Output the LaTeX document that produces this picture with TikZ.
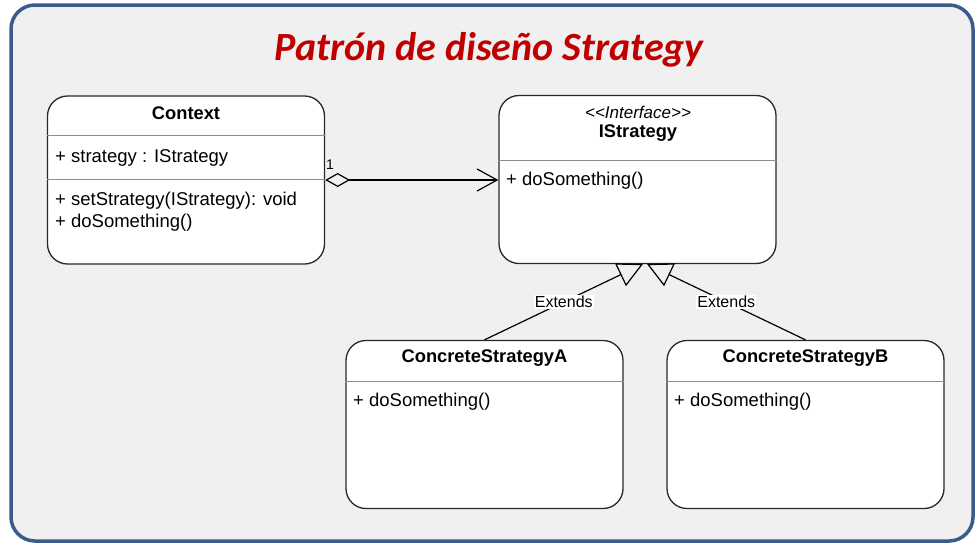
\documentclass[tikz,border=0pt]{standalone}
\usepackage{fontspec}
\setmainfont{Liberation Sans}
\newfontfamily\titlefont{Carlito}
\usepackage{tikz}
\usetikzlibrary{arrows.meta}

\definecolor{framecol}{RGB}{58,92,140}
\definecolor{panelgray}{RGB}{240,240,240}
\definecolor{titlered}{RGB}{192,0,0}
\definecolor{boxline}{RGB}{40,40,40}
\definecolor{divline}{RGB}{140,140,140}

\begin{document}
\begin{tikzpicture}[
    x=1pt,y=-1pt,
    classbox/.style={draw=boxline,fill=white,rounded corners=20pt,line width=1.3pt,
      minimum width=277pt,minimum height=168pt,inner sep=0pt},
    divider/.style={draw=divline,line width=0.9pt},
    classname/.style={font=\fontsize{18.3}{20}\selectfont\bfseries,inner sep=0pt},
    stereo/.style={font=\fontsize{17}{20}\selectfont\itshape,inner sep=0pt},
    member/.style={font=\fontsize{18.5}{20}\selectfont,anchor=west,inner sep=0pt},
    assoc/.style={line width=1.2pt,
      {Diamond[open,length=25pt,width=14pt]}-{Straight Barb[length=20pt,width=22pt]}},
    extends/.style={line width=1.2pt,-{Triangle[open,length=25pt,width=25pt]}},
    extlabel/.style={font=\fontsize{16}{18}\selectfont,fill=white,inner sep=1pt}
]
\fill[white] (0,0) rectangle (977,547);
\useasboundingbox (0,0) rectangle (977,547);

% panel and title
\draw[framecol,line width=3.5pt,fill=panelgray,rounded corners=24pt] (11,5) rectangle (973,541);
\node[font=\titlefont\fontsize{40}{44}\selectfont\bfseries\itshape,text=titlered]
  (title) at (489,50) {Patrón de diseño Strategy};

% classes
\node[classbox] (context) at (186,180) {};
\node[classbox] (istrategy) at (637.5,179.5) {};
\node[classbox] (csa) at (484.5,424.5) {};
\node[classbox] (csb) at (805.5,424.5) {};

\draw[divider] (context.west |- 0,135) -- (context.east |- 0,135);
\draw[divider] (context.west |- 0,179) -- (context.east |- 0,179);
\draw[divider] (istrategy.west |- 0,160) -- (istrategy.east |- 0,160);
\draw[divider] (csa.west |- 0,381) -- (csa.east |- 0,381);
\draw[divider] (csb.west |- 0,381) -- (csb.east |- 0,381);

\node[classname] (ctxname) at (186,113) {Context};
\node[member] (ctxattr) at (55,158) {+ strategy : IStrategy};
\node[member] (ctxset) at (55,201) {+ setStrategy(IStrategy): void};
\node[member] (ctxdo) at (55,223) {+ doSomething()};

\node[stereo] (ifcstereo) at (638,112) {<\kern0pt<Interface>\kern0pt>};
\node[classname] (ifcname) at (638,133) {IStrategy};
\node[member] (ifcdo) at (506,181) {+ doSomething()};

\node[classname] (csaname) at (484.5,358) {ConcreteStrategyA};
\node[member] (csado) at (353,402) {+ doSomething()};
\node[classname] (csbname) at (805.5,358) {ConcreteStrategyB};
\node[member] (csbdo) at (674,402) {+ doSomething()};

% relations
\draw[assoc] (context.east) -- (istrategy.west |- context.east);
\node[font=\fontsize{14}{16}\selectfont,inner sep=0pt] (mult) at (330,165) {1};

\coordinate (tipA) at (643,264);
\coordinate (tipB) at (647,264);
\draw[extends] (csa.north) -- node[extlabel] (extA) {Extends} (tipA);
\draw[extends] (csb.north) -- node[extlabel] (extB) {Extends} (tipB);
\end{tikzpicture}
\end{document}
